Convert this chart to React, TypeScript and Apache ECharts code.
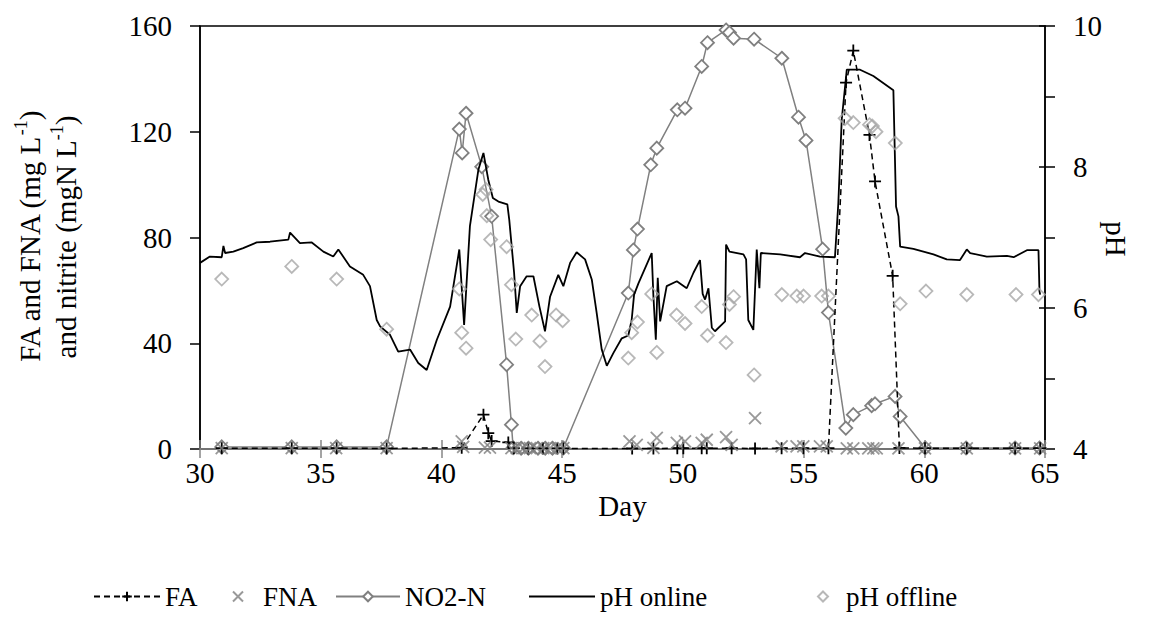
import React, { useEffect, useRef } from "react";
import * as echarts from "echarts";

const FONT = '"Liberation Serif", "Times New Roman", serif';

// Day axis / value axes
const xTicks = { min: 30, max: 65, interval: 5 };
const leftTicks = { min: 0, max: 160, interval: 40 };
const rightTicks = { min: 4, max: 10, interval: 2 };

// FA (mg/L) [day, value]
const FA: [number, number][] = [
  [30.9, 0.3], [33.8, 0.3], [35.66, 0.3], [37.73, 0.2], [40.84, 0.5], [41.74, 13], [41.94, 6], [42.08, 3],
  [42.77, 2.5], [43.0, 0.3], [43.6, 0.2], [44.2, 0.2], [44.8, 0.2], [45.05, 0.2], [47.9, 0.2], [48.78, 0.2],
  [49.77, 0.3], [50.02, 0.3], [50.78, 0.3], [50.99, 0.3], [52.02, 0.3], [52.99, 0.2], [54.09, 0.3], [54.99, 0.3],
  [56.03, 0.3], [56.76, 138.6], [57.06, 150.7], [57.73, 118.8], [57.96, 101.2], [58.69, 65.5], [58.97, 0.4],
  [60.03, 0.3], [61.76, 0.3], [63.76, 0.3], [64.8, 0.3],
];

// FNA (mg/L) [day, value]
const FNA: [number, number][] = [
  [30.9, 0.3], [33.8, 0.3], [35.64, 0.3], [37.73, 0.3], [40.84, 2.9], [40.9, 0.8], [41.8, 0.5], [42.01, 0.5],
  [42.9, 0.3], [43.12, 0.3], [43.4, 0.3], [43.67, 0.3], [43.95, 0.3], [44.22, 0.3], [44.5, 0.3], [44.78, 0.3],
  [45.05, 0.3], [47.79, 2.9], [48.09, 1.6], [48.78, 0.4], [48.92, 4.2], [49.75, 2.3], [50.09, 2.9], [50.78, 2.3],
  [50.99, 3.5], [51.79, 4.5], [52.02, 1.6], [52.99, 11.7], [54.09, 1.0], [54.71, 1.0], [54.99, 1.0], [55.68, 1.0],
  [55.96, 1.0], [56.79, 0.2], [57.06, 0.2], [57.68, 0.2], [57.89, 0.2], [58.03, 0.2], [58.93, 0.2], [60.03, 0.2],
  [61.76, 0.2], [63.76, 0.2], [64.8, 0.2],
];

// NO2-N (mgN/L) [day, value]
const NO2N: [number, number][] = [
  [30.9, 0.8], [33.8, 0.8], [35.66, 0.8], [37.73, 0.8], [40.74, 121], [40.86, 112], [41.02, 127], [41.67, 106.8],
  [42.08, 88], [42.7, 31.9], [42.9, 9.2], [42.97, 0.5], [43.3, 0.3], [43.6, 0.3], [44.0, 0.3], [44.3, 0.3],
  [44.6, 0.3], [45.05, 0.4], [47.74, 59], [47.95, 75.3], [48.12, 83.2], [48.67, 107.5], [48.92, 113.8],
  [49.77, 128.3], [50.09, 128.9], [50.78, 144.7], [51.02, 153.7], [51.79, 158.5], [51.93, 157.5], [52.1, 155.4],
  [52.95, 155], [54.1, 147.8], [54.79, 125.5], [55.1, 116.7], [55.79, 75.6], [56.03, 51.6], [56.75, 7.9],
  [57.06, 13], [57.82, 16.4], [57.96, 17.1], [58.79, 19.9], [59.0, 12.3], [60.04, 0.4], [61.73, 0.4],
  [63.76, 0.4], [64.77, 0.4],
];

// pH online [day, pH]
const PH_ONLINE: [number, number][] = [
  [30.0, 6.64], [30.41, 6.73], [30.9, 6.72], [30.97, 6.88], [31.04, 6.78], [31.38, 6.8], [31.79, 6.85], [32.35, 6.93],
  [32.9, 6.94], [33.66, 6.97], [33.73, 7.07], [34.14, 6.92], [34.63, 6.93], [35.11, 6.8], [35.52, 6.73], [35.73, 6.83],
  [36.21, 6.59], [36.76, 6.47], [37.04, 6.31], [37.32, 5.83], [37.46, 5.74], [37.87, 5.62], [38.21, 5.38], [38.7, 5.41],
  [39.04, 5.22], [39.39, 5.12], [39.81, 5.55], [40.36, 6.02], [40.74, 6.83], [40.94, 5.76], [41.18, 7.16], [41.53, 7.96],
  [41.74, 8.2], [41.94, 7.82], [42.13, 7.56], [42.36, 7.51], [42.73, 7.47], [42.81, 7.25], [43.01, 6.5], [43.12, 5.93],
  [43.26, 6.31], [43.53, 6.45], [43.81, 6.45], [44.06, 6.02], [44.29, 5.67], [44.5, 6.16], [44.84, 6.47], [45.05, 6.31],
  [45.33, 6.64], [45.6, 6.79], [45.95, 6.69], [46.23, 6.4], [46.43, 5.93], [46.64, 5.41], [46.85, 5.18], [47.12, 5.36],
  [47.47, 5.57], [47.74, 5.61], [47.88, 5.83], [47.98, 6.19], [48.16, 6.35], [48.71, 6.78], [48.78, 6.17], [48.88, 5.55],
  [48.96, 6.43], [49.06, 5.81], [49.33, 6.31], [49.75, 6.38], [50.16, 6.28], [50.44, 6.5], [50.71, 6.68], [50.82, 6.2],
  [50.92, 6.12], [51.06, 6.28], [51.2, 5.72], [51.33, 5.67], [51.75, 5.81], [51.79, 6.9], [51.93, 6.8], [52.51, 6.76],
  [52.62, 6.69], [52.71, 5.83], [52.92, 5.69], [53.06, 6.83], [53.17, 6.28], [53.23, 6.78], [54.03, 6.76], [54.85, 6.72],
  [55.06, 6.78], [55.68, 6.73], [56.3, 6.72], [56.44, 7.49], [56.58, 8.67], [56.79, 9.38], [57.34, 9.38], [57.89, 9.29],
  [58.72, 9.09], [58.83, 7.44], [58.93, 7.3], [59.0, 6.87], [59.55, 6.84], [60.38, 6.76], [60.93, 6.69], [61.48, 6.68],
  [61.76, 6.83], [61.9, 6.78], [62.59, 6.73], [63.42, 6.74], [63.7, 6.72], [64.25, 6.82], [64.73, 6.82], [64.77, 6.24],
  [64.8, 6.19],
];

// pH offline [day, pH]
const PH_OFFLINE: [number, number][] = [
  [30.9, 6.41], [33.8, 6.59], [35.66, 6.41], [37.73, 5.7], [40.74, 6.27], [40.84, 5.65], [41.02, 5.43], [41.71, 7.61],
  [41.85, 7.68], [41.88, 7.31], [42.04, 6.97], [42.7, 6.87], [42.9, 6.33], [43.08, 5.56], [43.74, 5.9], [44.08, 5.53],
  [44.29, 5.17], [44.75, 5.9], [45.02, 5.82], [47.74, 5.29], [47.88, 5.65], [48.12, 5.8], [48.71, 6.2], [48.92, 5.37],
  [49.74, 5.9], [50.09, 5.78], [50.78, 6.02], [51.02, 5.61], [51.79, 5.51], [51.93, 6.05], [52.1, 6.16], [52.95, 5.05],
  [54.1, 6.19], [54.72, 6.17], [55.0, 6.17], [55.75, 6.17], [56.03, 6.17], [56.72, 8.69], [57.06, 8.63], [57.73, 8.6],
  [57.85, 8.58], [58.0, 8.5], [58.8, 8.34], [59.0, 6.06], [60.07, 6.24], [61.76, 6.19], [63.8, 6.19], [64.73, 6.19],
];

const PLUS = "path://M5,0L5,10M0,5L10,5";
const CROSS = "path://M0,0L10,10M10,0L0,10";

const txt = { color: "#000", fontFamily: FONT, fontSize: 29 };

export default function App() {
  const ref = useRef<HTMLDivElement>(null);
  useEffect(() => {
    document.body.style.margin = "0";
    const chart = echarts.init(ref.current!, null, { renderer: "svg" });
    const legendBase = {
      top: 578,
      itemHeight: 12,
      itemGap: 0,
      textStyle: { ...txt, fontSize: 27 },
      selectedMode: false,
    };
    chart.setOption({
      animation: false,
      backgroundColor: "#fff",
      grid: {
        left: 200, right: 104, top: 26, bottom: 174,
        show: true, borderColor: "#000", borderWidth: 1.5, backgroundColor: "transparent",
      },
      xAxis: [
        {
          type: "value", ...xTicks, position: "bottom",
          axisLine: { show: true, onZero: false, lineStyle: { color: "#868686", width: 1.5 } },
          axisTick: { show: true, length: 9, lineStyle: { color: "#868686", width: 1.5 } },
          axisLabel: { ...txt, margin: 9 },
          splitLine: { show: false },
          name: "Day", nameLocation: "middle", nameGap: 42, nameTextStyle: txt,
        },
        {
          type: "value", ...xTicks, position: "bottom",
          axisLine: { show: false },
          axisTick: { show: true, inside: true, length: 9, lineStyle: { color: "#868686", width: 1.5 } },
          axisLabel: { show: false }, splitLine: { show: false },
        },
      ],
      yAxis: [
        {
          type: "value", ...leftTicks, position: "left",
          axisLine: { show: true, lineStyle: { color: "#000", width: 1.5 } },
          axisTick: { show: true, length: 10, lineStyle: { color: "#000", width: 1.5 } },
          axisLabel: { ...txt, margin: 28 },
          splitLine: { show: false },
        },
        {
          type: "value", ...rightTicks, position: "right",
          axisLine: { show: true, lineStyle: { color: "#000", width: 1.5 } },
          axisTick: { show: true, length: 10, lineStyle: { color: "#000", width: 1.5 } },
          minorTick: { show: true, splitNumber: 2, length: 10, lineStyle: { color: "#000", width: 1.5 } },
          axisLabel: { ...txt, margin: 28 },
          splitLine: { show: false }, minorSplitLine: { show: false },
        },
        {
          type: "value", ...rightTicks, position: "right",
          axisLine: { show: false },
          axisTick: { show: true, inside: true, length: 6, lineStyle: { color: "#000", width: 1.5 } },
          axisLabel: { show: false }, splitLine: { show: false },
        },
      ],
      legend: [
        { ...legendBase, data: ["FA"], left: 88, itemWidth: 66 },
        {
          ...legendBase, data: ["FNA"], left: 227, itemWidth: 10, itemHeight: 10,
          textStyle: { ...legendBase.textStyle, padding: [0, 0, 0, 15] },
        },
        { ...legendBase, data: ["NO2-N"], left: 330, itemWidth: 64 },
        {
          ...legendBase, data: [{ name: "pH online", icon: "rect" }], left: 524, itemWidth: 66, itemHeight: 2,
          itemStyle: { color: "#000" },
        },
        {
          ...legendBase, data: ["pH offline"], left: 812, itemWidth: 10, itemHeight: 10,
          textStyle: { ...legendBase.textStyle, padding: [0, 0, 0, 13] },
        },
      ],
      graphic: [
        {
          type: "text", x: 48, y: 237, rotation: Math.PI / 2,
          style: {
            text: "{a|FA and FNA (mg L}{s|-1}{a|)}\n{a|and nitrite (mgN L}{s|-1}{a|)}",
            align: "center", verticalAlign: "middle",
            rich: {
              a: { fontFamily: FONT, fontSize: 29, lineHeight: 36, fill: "#000" },
              s: { fontFamily: FONT, fontSize: 18, lineHeight: 36, verticalAlign: "top", fill: "#000" },
            },
          },
        },
        {
          type: "text", x: 1116, y: 239, rotation: -Math.PI / 2,
          style: { text: "pH", fontFamily: FONT, fontSize: 29, fill: "#000", align: "center", verticalAlign: "middle" },
        },
      ],
      series: [
        {
          name: "FA", type: "line", data: FA, yAxisIndex: 0, symbol: PLUS, symbolSize: 12,
          lineStyle: { color: "#000", width: 1.5, type: [6, 4] },
          itemStyle: { color: "#000", borderColor: "#000", borderWidth: 1.8 },
          z: 3,
        },
        {
          name: "FNA", type: "scatter", data: FNA, yAxisIndex: 0, symbol: CROSS, symbolSize: 12,
          itemStyle: { color: "#808080", borderColor: "#808080", borderWidth: 1.8 },
          z: 3,
        },
        {
          name: "NO2-N", type: "line", data: NO2N, yAxisIndex: 0, symbol: "diamond", symbolSize: 13,
          lineStyle: { color: "#808080", width: 1.5 },
          itemStyle: { color: "#fff", borderColor: "#808080", borderWidth: 1.8 },
          z: 2,
        },
        {
          name: "pH online", type: "line", data: PH_ONLINE, yAxisIndex: 1, symbol: "none", showSymbol: false,
          lineStyle: { color: "#000", width: 1.8 },
          itemStyle: { color: "#000" },
          z: 4,
        },
        {
          name: "pH offline", type: "scatter", data: PH_OFFLINE, yAxisIndex: 1, symbol: "diamond", symbolSize: 13,
          itemStyle: { color: "rgba(255,255,255,0)", borderColor: "#a6a6a6", borderWidth: 1.8 },
          z: 5,
        },
      ],
    });
    return () => chart.dispose();
  }, []);
  return <div ref={ref} style={{ width: 1149, height: 623 }} />;
}
